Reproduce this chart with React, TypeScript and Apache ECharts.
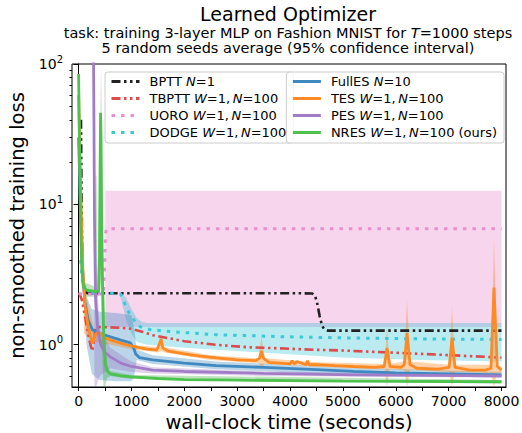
import React, { useEffect, useRef } from "react";
import * as echarts from "echarts";

// ---------------- data ----------------
const methodNames = ["BPTT", "TBPTT", "UORO", "DODGE", "FullES", "TES", "PES", "NRES"];
const TS = "\u2009"; // thin space, as in math text
const methodSettings = [
  "{i|N}=1",
  `{i|W}=1,${TS}{i|N}=100`,
  `{i|W}=1,${TS}{i|N}=100`,
  `{i|W}=1,${TS}{i|N}=100`,
  "{i|N}=10",
  `{i|W}=1,${TS}{i|N}=100`,
  `{i|W}=1,${TS}{i|N}=100`,
  `{i|W}=1,${TS}{i|N}=100 (ours)`,
];

const xTicks = [0, 1000, 2000, 3000, 4000, 5000, 6000, 7000, 8000];
const xMinorTicks = [0, 500, 1000, 1500, 2000, 2500, 3000, 3500, 4000, 4500, 5000, 5500, 6000, 6500, 7000, 7500, 8000];
const yTicks = [1, 10, 100];
const yMinorTicks = [0.6, 0.7, 0.8, 0.9, 2, 3, 4, 5, 6, 7, 8, 9, 20, 30, 40, 50, 60, 70, 80, 90];

const bpttT = [45, 55, 65, 80, 110, 160, 1000, 2000, 3000, 4000, 4420, 4470, 4510, 4560, 4610, 4660, 4720, 4850, 6000, 8000];
const bpttY = [40, 12, 5, 3.0, 2.45, 2.33, 2.33, 2.33, 2.33, 2.33, 2.32, 2.25, 2.0, 1.6, 1.35, 1.28, 1.26, 1.26, 1.26, 1.26];

const tbpttT = [10, 60, 120, 180, 230, 260, 285, 320, 400, 600, 800, 1000, 1200, 1400, 2000, 2600, 3200, 3900, 4500, 5000, 5600, 6200, 6800, 7400, 8000];
const tbpttY = [2.35, 2.1, 1.6, 1.2, 0.98, 0.9, 1.05, 1.3, 1.34, 1.33, 1.32, 1.3, 1.24, 1.17, 1.06, 1.0, 0.96, 0.94, 0.92, 0.91, 0.89, 0.87, 0.85, 0.83, 0.81];

const uoroT = [0, 200, 470, 490, 500, 510, 530, 8000];
const uoroY = [2.3, 2.3, 2.3, 3.5, 5.0, 6.3, 6.7, 6.7];
const uoroBandT = [505, 8000];
const uoroBandLo = [1.34, 1.34];
const uoroBandHi = [12.5, 12.5];

const dodgeT = [40, 80, 150, 300, 500, 700, 790, 840, 885, 930, 980, 1070, 1170, 1360, 1740, 2600, 3900, 5000, 6500, 8000];
const dodgeY = [4, 2.6, 2.36, 2.33, 2.33, 2.33, 2.3, 2.1, 1.92, 1.75, 1.63, 1.46, 1.34, 1.28, 1.24, 1.18, 1.14, 1.12, 1.1, 1.09];
const dodgeBandT = [790, 900, 1000, 1100, 1200, 1300, 2000, 2600, 3900, 5000, 6500, 8000];
const dodgeBandLo = [2.2, 1.5, 1.2, 1.05, 1.02, 1.0, 0.95, 0.92, 0.86, 0.81, 0.78, 0.76];
const dodgeBandHi = [2.4, 2.15, 1.8, 1.55, 1.45, 1.43, 1.43, 1.43, 1.43, 1.43, 1.43, 1.43];

const fullesT = [0, 40, 80, 120, 180, 260, 400, 600, 800, 980, 1040, 1080, 1150, 1400, 2000, 2600, 3500, 4500, 5200, 6000, 7000, 8000];
const fullesY = [30, 8, 3.2, 2.0, 1.5, 1.28, 1.2, 1.14, 1.08, 1.03, 0.95, 0.86, 0.81, 0.78, 0.74, 0.71, 0.69, 0.665, 0.645, 0.63, 0.62, 0.61];
const fullesBandT = [80, 150, 250, 400, 700, 1000, 1050, 1100, 1400, 2600, 5000, 8000];
const fullesBandLo = [2.5, 1.0, 0.62, 0.56, 0.55, 0.55, 0.6, 0.78, 0.73, 0.67, 0.61, 0.585];
const fullesBandHi = [4, 2.2, 1.8, 1.72, 1.68, 1.62, 1.3, 0.92, 0.84, 0.76, 0.69, 0.64];

const tesT = [0, 40, 80, 120, 180, 230, 260, 300, 350, 420, 500, 700, 900, 1100, 1300, 1480, 1530, 1560, 1590, 1700, 2000, 2300, 2700, 3000, 3350, 3420, 3460, 3500, 3600, 3800, 4000, 4040, 4080, 4130, 4300, 4330, 4360, 4520, 4850, 5200, 5600, 5780, 5835, 5890, 6100, 6160, 6213, 6270, 6400, 6800, 7010, 7064, 7120, 7400, 7700, 7800, 7858, 7920, 8000];
const tesY = [60, 12, 3.5, 1.9, 1.35, 1.12, 1.02, 1.15, 1.22, 1.2, 1.12, 1.05, 1.0, 0.96, 0.93, 0.92, 1.02, 1.1, 0.95, 0.9, 0.86, 0.83, 0.8, 0.78, 0.77, 0.8, 0.9, 0.8, 0.75, 0.74, 0.73, 0.77, 0.73, 0.76, 0.72, 0.77, 0.72, 0.72, 0.71, 0.7, 0.69, 0.7, 0.95, 0.7, 0.69, 0.72, 1.21, 0.72, 0.68, 0.67, 0.69, 1.12, 0.69, 0.66, 0.66, 0.68, 2.55, 0.7, 0.66];
const tesBandT = [100, 300, 600, 1000, 1500, 1560, 1620, 2500, 3400, 3460, 3520, 4500, 5790, 5835, 5880, 6160, 6213, 6270, 7010, 7064, 7120, 7800, 7858, 7920, 8000];
const tesBandLo = [1.2, 1.05, 1.0, 0.93, 0.88, 0.9, 0.88, 0.78, 0.74, 0.68, 0.73, 0.7, 0.67, 0.5, 0.67, 0.66, 0.5, 0.66, 0.64, 0.5, 0.64, 0.63, 0.5, 0.63, 0.63];
const tesBandHi = [2.6, 1.28, 1.12, 1.0, 0.96, 1.2, 0.96, 0.84, 0.8, 1.14, 0.8, 0.75, 0.73, 1.34, 0.73, 0.76, 2.1, 0.76, 0.72, 1.86, 0.72, 0.72, 5.8, 0.72, 0.7];

const pesT = [280, 290, 300, 320, 360, 420, 500, 600, 800, 1000, 1400, 2000, 3500, 5200, 8000];
const pesY = [150, 40, 8, 2.2, 1.3, 1.0, 0.88, 0.82, 0.74, 0.7, 0.66, 0.645, 0.625, 0.61, 0.6];
const pesBandT = [280, 300, 330, 400, 600, 1000, 1400, 3500, 8000];
const pesBandLo = [60, 0.5, 0.5, 0.6, 0.68, 0.64, 0.625, 0.6, 0.585];
const pesBandHi = [150, 20, 4, 1.3, 0.95, 0.76, 0.69, 0.645, 0.615];

const nresT = [0, 15, 35, 60, 90, 150, 300, 380, 395, 405, 415, 425, 435, 450, 470, 490, 510, 540, 600, 800, 1000, 1500, 2000, 3000, 5000, 8000];
const nresY = [85, 30, 8, 3.5, 2.6, 2.45, 2.4, 2.4, 4, 15, 45, 30, 8, 3, 1.4, 0.9, 0.72, 0.65, 0.62, 0.6, 0.59, 0.575, 0.565, 0.56, 0.55, 0.545];
const nresBandT = [0, 40, 90, 300, 320, 340, 360, 400, 425, 445, 470, 500, 540, 600, 1000, 8000];
const nresBandLo = [80, 3, 2.2, 2.2, 2.2, 2.2, 2.2, 2.3, 3, 0.9, 0.5, 0.5, 0.58, 0.6, 0.57, 0.53];
const nresBandHi = [90, 20, 2.8, 2.6, 16, 16, 2.7, 20, 150, 20, 4, 1.2, 0.72, 0.65, 0.61, 0.56];

// ---------------- styles ----------------
const FONT = "DejaVu Sans";
const lineColors = ["#222222", "#dd4b4c", "#e88fcd", "#3cc8d6", "#3f88c0", "#ff8a24", "#a27cc6", "#4ec24e"];
const bandColors: Record<string, string> = {
  UORO: "rgba(227,119,194,0.3)",
  DODGE: "rgba(23,190,207,0.3)",
  FullES: "rgba(31,119,180,0.3)",
  TES: "rgba(255,127,14,0.35)",
  PES: "rgba(148,103,189,0.3)",
  NRES: "rgba(44,160,44,0.3)",
};
const dashDotDot = [9, 3.5, 2.5, 3.5, 2.5, 3.5];
const dotted = [3.5, 6];
const lineTypes: any[] = [dashDotDot, dashDotDot, dotted, dotted, "solid", "solid", "solid", "solid"];
const lineWidths = [2.6, 2.6, 3, 3, 2.8, 2.8, 2.8, 2.8];

const Y_MIN = 0.5;
const Y_MAX = 100;

function zip(t: number[], y: number[]) {
  return t.map((v, i) => [v, y[i]]);
}

function bandSeries(name: string, t: number[], lo: number[], hi: number[]) {
  const color = bandColors[name];
  const clampY = (v: number) => Math.min(Math.max(v, Y_MIN), Y_MAX);
  return {
    type: "custom",
    name: name + " band",
    data: t.map((v, i) => [v, lo[i], hi[i]]),
    encode: { x: 0, y: [1, 2] },
    silent: true,
    z: 1,
    renderItem: (params: any, api: any) => {
      if (params.dataIndexInside !== 0) return null;
      const n = params.dataInsideLength;
      const top: number[][] = [];
      const bot: number[][] = [];
      for (let i = 0; i < n; i++) {
        const x = api.value(0, i);
        bot.push(api.coord([x, clampY(api.value(1, i))]));
        top.push(api.coord([x, clampY(api.value(2, i))]));
      }
      return {
        type: "polygon",
        shape: { points: top.concat(bot.reverse()) },
        style: { fill: color, stroke: "none" },
        silent: true,
      };
    },
  };
}

export default function App() {
  const ref = useRef<HTMLDivElement>(null);

  useEffect(() => {
    if (!ref.current) return;
    const chart = echarts.init(ref.current, null, { renderer: "svg" });

    const lineData = [
      zip(bpttT, bpttY),
      zip(tbpttT, tbpttY),
      zip(uoroT, uoroY),
      zip(dodgeT, dodgeY),
      zip(fullesT, fullesY),
      zip(tesT, tesY),
      zip(pesT, pesY),
      zip(nresT, nresY),
    ];

    const lineSeries = methodNames.map((name, k) => ({
      type: "line",
      name,
      data: lineData[k],
      symbol: "none",
      showSymbol: false,
      silent: true,
      z: 3,
      color: lineColors[k],
      lineStyle: { color: lineColors[k], width: lineWidths[k], type: lineTypes[k], cap: "butt" },
    }));

    const bands = [
      bandSeries("UORO", uoroBandT, uoroBandLo, uoroBandHi),
      bandSeries("DODGE", dodgeBandT, dodgeBandLo, dodgeBandHi),
      bandSeries("FullES", fullesBandT, fullesBandLo, fullesBandHi),
      bandSeries("TES", tesBandT, tesBandLo, tesBandHi),
      bandSeries("PES", pesBandT, pesBandLo, pesBandHi),
      bandSeries("NRES", nresBandT, nresBandLo, nresBandHi),
    ];

    const settingsOf: Record<string, string> = {};
    methodNames.forEach((n, i) => (settingsOf[n] = methodSettings[i]));

    const LFS = 13;
    const legendCommon = {
      orient: "vertical",
      top: 72,
      itemWidth: 28,
      itemHeight: 14,
      itemGap: 4,
      padding: [3, 7, 4, 5],
      backgroundColor: "rgba(255,255,255,0.8)",
      borderColor: "#cccccc",
      borderWidth: 1,
      borderRadius: 3,
      selectedMode: false,
      itemStyle: { opacity: 0 },
      lineStyle: { width: 3 },
      formatter: (name: string) => name + " " + settingsOf[name],
      textStyle: {
        fontFamily: FONT,
        fontSize: LFS,
        color: "#000",
        padding: [0, 0, 0, 5],
        rich: { i: { fontStyle: "italic", fontFamily: FONT, fontSize: LFS, color: "#000" } },
      },
    };

    const titleStyle = (size: number) => ({
      font: `${size}px "${FONT}"`,
      fontFamily: FONT,
      fontSize: size,
      fill: "#000",
      textAlign: "center",
      align: "center",
      textVerticalAlign: "middle",
      verticalAlign: "middle",
    });

    chart.setOption({
      animation: false,
      textStyle: { fontFamily: FONT },
      grid: {
        left: 72,
        right: 16,
        top: 64,
        bottom: 46,
        show: true,
        borderColor: "#000",
        borderWidth: 1,
        backgroundColor: "transparent",
        outerBoundsMode: "none",
      },
      graphic: [
        { type: "text", x: 288, y: 14, style: { text: "Learned Optimizer", ...titleStyle(19) } },
        {
          type: "text",
          x: 288,
          y: 32.5,
          style: {
            text: "task: training 3-layer MLP on Fashion MNIST for {i|T}=1000 steps",
            ...titleStyle(14.5),
            rich: { i: { fontStyle: "italic", fontFamily: FONT, fontSize: 14.5, fill: "#000" } },
          },
        },
        { type: "text", x: 288, y: 48, style: { text: "5 random seeds average (95% confidence interval)", ...titleStyle(14.5) } },
      ],
      legend: [
        { ...legendCommon, left: 105, data: methodNames.slice(0, 4) },
        { ...legendCommon, right: 18, data: methodNames.slice(4) },
      ],
      xAxis: {
        type: "value",
        min: -125,
        max: 8085,
        name: "wall-clock time (seconds)",
        nameLocation: "middle",
        nameGap: 19,
        nameTextStyle: { fontFamily: FONT, fontSize: 19.5, color: "#000" },
        axisLine: { show: true, lineStyle: { color: "#000", width: 1 } },
        axisTick: { show: true, length: 4, customValues: xMinorTicks, lineStyle: { color: "#000" } },
        axisLabel: {
          customValues: xTicks,
          fontFamily: FONT,
          fontSize: 14,
          color: "#000",
          margin: 7,
          formatter: (v: number) => String(Math.round(v)),
        },
        splitLine: { show: false },
      },
      yAxis: [
        {
          type: "log",
          logBase: 10,
          min: Y_MIN,
          max: Y_MAX,
          position: "left",
          name: "non-smoothed training loss",
          nameLocation: "middle",
          nameGap: 40,
          nameTextStyle: { fontFamily: FONT, fontSize: 19.5, color: "#000" },
          axisLine: { show: true, lineStyle: { color: "#000", width: 1 } },
          axisTick: { show: true, length: 5, customValues: yTicks, lineStyle: { color: "#000" } },
          axisLabel: {
            customValues: yTicks,
            fontFamily: FONT,
            fontSize: 14,
            color: "#000",
            margin: 9,
            lineHeight: 20,
            formatter: (v: number) => "10{sup|" + Math.round(Math.log10(v)) + "}",
            rich: { sup: { fontFamily: FONT, fontSize: 10, lineHeight: 10, verticalAlign: "top", color: "#000" } },
          },
          splitLine: { show: false },
        },
        {
          type: "log",
          logBase: 10,
          min: Y_MIN,
          max: Y_MAX,
          position: "left",
          offset: 0,
          axisLine: { show: false },
          axisTick: { show: true, length: 2.5, customValues: yMinorTicks, lineStyle: { color: "#000" } },
          axisLabel: { show: false },
          splitLine: { show: false },
        },
      ],
      series: [...bands, ...lineSeries],
    });

    return () => chart.dispose();
  }, []);

  return (
    <div
      ref={ref}
      style={{ position: "absolute", left: 0, top: 0, width: 522, height: 433, background: "#fff" }}
    />
  );
}
